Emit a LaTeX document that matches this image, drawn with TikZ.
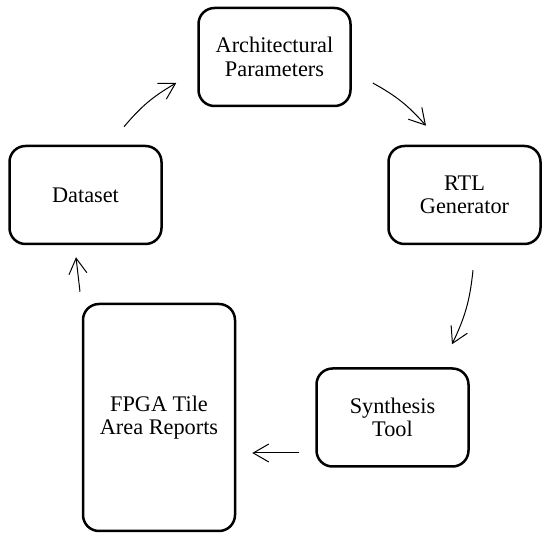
\documentclass[tikz,border=0pt]{standalone}
\usepackage{fontspec}
\setmainfont{Liberation Serif}
\usetikzlibrary{arrows.meta}

\begin{document}
\begin{tikzpicture}[x=1pt,y=-1pt,
  box/.style={draw,line width=2.5pt,rounded corners=16pt,align=center,
    minimum width=152pt,minimum height=98pt,
    font=\fontsize{22.3}{23.5}\selectfont},
  flow/.style={-{Straight Barb[angle=60:18pt]},line width=1pt}]
\useasboundingbox (0,0) rectangle (550,540);
\node[box] (arch) at (274.5,57) {Architectural\\Parameters};
\node[box] (rtl) at (464.5,195) {RTL\\Generator};
\node[box] (synth) at (392.5,417.5) {Synthesis\\Tool};
\node[box,minimum height=227pt] (fpga) at (159,417.5) {FPGA Tile\\Area Reports};
\node[box] (data) at (85.5,195) {Dataset};
% cycle
\draw[flow] ([shift={(38.5,-18)}]data.north) to[bend left=10] ([shift={(-21,26)}]arch.west);
\draw[flow] ([shift={(21,26)}]arch.east) to[bend left=10] ([shift={(-38.5,-19)}]rtl.north);
\draw[flow] ([shift={(8.5,25)}]rtl.south) to[bend left=10] ([shift={(59.5,-23)}]synth.north);
\draw[flow] ([shift={(-16,35.5)}]synth.west) -- ([shift={(16,35.5)}]fpga.east);
\draw[flow] ([shift={(-79,-11)}]fpga.north) -- ([shift={(-9.5,12)}]data.south);
\end{tikzpicture}
\end{document}
